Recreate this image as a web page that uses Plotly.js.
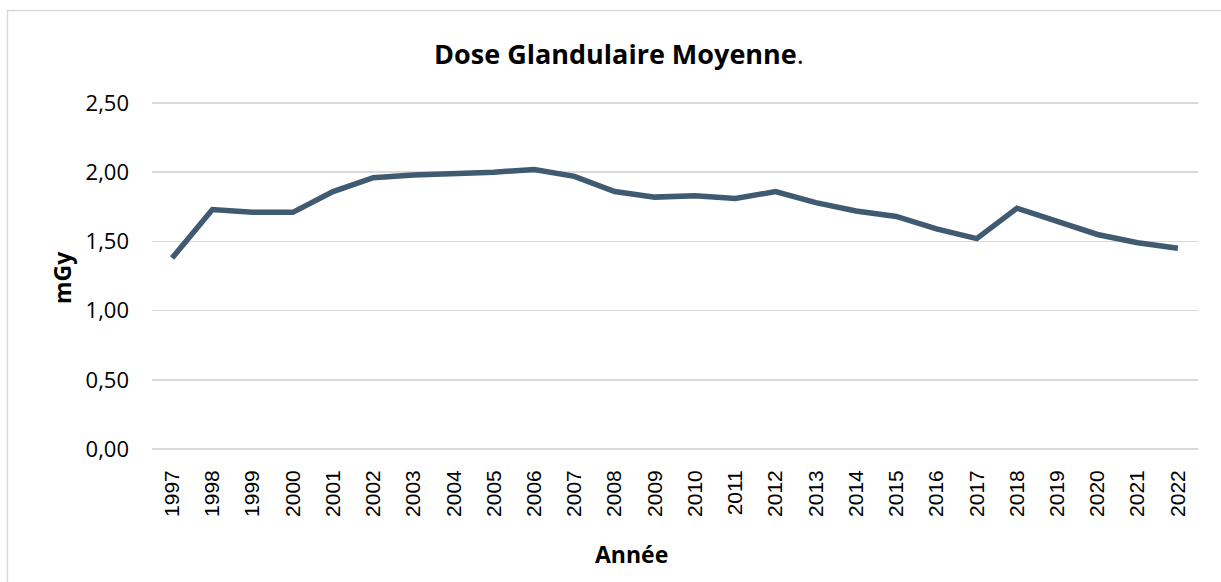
<!DOCTYPE html>
<html>
<head>
<meta charset="utf-8">
<script src="https://cdn.plot.ly/plotly-3.0.1.min.js"></script>
<style>html,body{margin:0;padding:0;background:#fff;}#chart{width:1221px;height:582px;}</style>
</head>
<body>
<div id="chart"></div>
<script>
const years = ["1997","1998","1999","2000","2001","2002","2003","2004","2005","2006","2007","2008","2009","2010","2011","2012","2013","2014","2015","2016","2017","2018","2019","2020","2021","2022"];
const doseMGy = [1.38,1.73,1.71,1.71,1.86,1.96,1.98,1.99,2.00,2.02,1.97,1.86,1.82,1.83,1.81,1.86,1.78,1.72,1.68,1.59,1.52,1.74,1.65,1.55,1.49,1.45];
const titleText = "<b>Dose Glandulaire Moyenne</b>.";
const xTitle = "Année";
const yTitle = "mGy";

const W = 1221, H = 582;
const L = 152, R = 23, T = 101, B = 131;
const pw = W - L - R, ph = H - T - B;
const px = v => (v - L) / pw;
const py = v => (H - B - v) / ph;

const trace = {
  type: "scatter",
  mode: "lines",
  x: years,
  y: doseMGy,
  line: {color: "#3F5A71", width: 5.5},
  hoverinfo: "x+y"
};

const layout = {
  width: W, height: H,
  margin: {l: L, r: R, t: T, b: B, pad: 0},
  paper_bgcolor: "#ffffff",
  plot_bgcolor: "#ffffff",
  separators: ", ",
  showlegend: false,
  title: {
    text: titleText,
    font: {family: "Open Sans, sans-serif", size: 27, color: "#000000"},
    x: 619 / W, xref: "container", xanchor: "center",
    y: 1 - 55 / H, yref: "container", yanchor: "middle"
  },
  xaxis: {
    type: "category",
    range: [-0.5, years.length - 0.5],
    tickangle: -90,
    showgrid: false,
    zeroline: false,
    showline: false,
    ticks: "",
    ticklabelstandoff: 14,
    tickfont: {family: "Liberation Sans, Arial, sans-serif", size: 21, color: "#000000"}
  },
  yaxis: {
    range: [-0.0145, 2.5145],
    dtick: 0.5,
    tick0: 0,
    tickformat: ".2f",
    showgrid: true,
    gridcolor: "#d9d9d9",
    gridwidth: 1.5,
    zeroline: false,
    showline: false,
    ticks: "",
    ticklabelstandoff: 22,
    tickfont: {family: "Open Sans, sans-serif", size: 22, color: "#000000"}
  },
  annotations: [
    {text: "<b>" + xTitle + "</b>", xref: "paper", yref: "paper", x: px(631), y: py(554),
     xanchor: "center", yanchor: "middle", showarrow: false,
     font: {family: "Open Sans, sans-serif", size: 23, color: "#000000"}},
    {text: "<b>" + yTitle + "</b>", xref: "paper", yref: "paper", x: px(62), y: py(278),
     xanchor: "center", yanchor: "middle", textangle: -90, showarrow: false,
     font: {family: "Open Sans, sans-serif", size: 23, color: "#000000"}}
  ],
  shapes: [
    {type: "rect", xref: "paper", yref: "paper", layer: "below",
     x0: px(7.5), x1: px(1300), y0: py(650), y1: py(10.5),
     line: {color: "#d9d9d9", width: 1.5}, fillcolor: "rgba(0,0,0,0)"}
  ]
};

Plotly.newPlot("chart", [trace], layout, {displayModeBar: false, staticPlot: true});
</script>
</body>
</html>
